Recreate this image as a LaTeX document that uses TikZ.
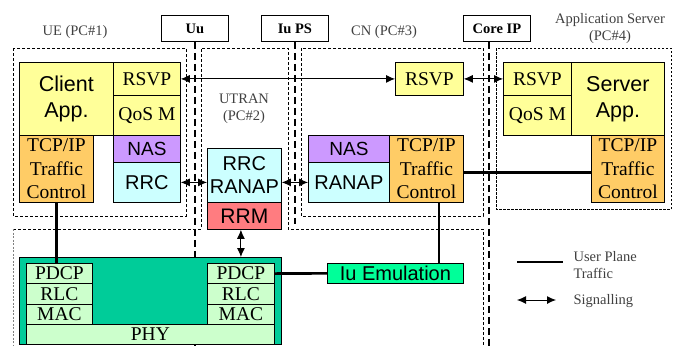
\documentclass[tikz,border=0pt]{standalone}
\usepackage{fontspec}
\setmainfont{Liberation Serif}
\newfontfamily\arialf{Liberation Sans}
\usetikzlibrary{arrows.meta,positioning,calc}
\definecolor{appyellow}{HTML}{FFFF99}
\definecolor{naspurple}{HTML}{CC99FF}
\definecolor{rrccyan}{HTML}{CCFFFF}
\definecolor{tcporange}{HTML}{FFCC66}
\definecolor{rrmred}{HTML}{FF7C80}
\definecolor{phygreen}{HTML}{00CC99}
\definecolor{laygreen}{HTML}{CCFFCC}
\definecolor{iugreen}{HTML}{00FF99}
\begin{document}
\begin{tikzpicture}[x=1pt, y=-1pt, >={Latex[length=9pt,width=8pt]},
  blk/.style={draw, rectangle, anchor=north west, inner sep=0pt, line width=0.8pt, align=center},
  sf/.style={blk, font=\arialf\fontsize{20}{23}\selectfont},
  rm/.style={blk, font=\fontsize{19.5}{23.5}\selectfont},
  app/.style={sf, fill=appyellow, font=\arialf\fontsize{21.5}{26}\selectfont, minimum width=93, minimum height=73},
  tcp/.style={rm, fill=tcporange, minimum width=74, minimum height=67},
  layer/.style={rm, fill=laygreen, minimum width=66, minimum height=20.3},
  iface/.style={draw, fill=white, anchor=north west, inner sep=0pt, line width=0.8pt, minimum width=67, minimum height=26, font=\bfseries\fontsize{14.5}{17}\selectfont},
  lbl/.style={align=center, text=black!75, font=\fontsize{14.5}{17}\selectfont},
  grp/.style={dash pattern=on 3pt off 2pt, line width=0.9pt},
  bound/.style={dash pattern=on 7pt off 4pt, line width=1.3pt},
  sig/.style={<->, line width=0.9pt},
  uplane/.style={line width=2.6pt}]
\useasboundingbox (0,0) rectangle (683,346);
\node[iface] (uu) at (161,15) {Uu};
\node[iface] (iups) at (261,15) {Iu PS};
\node[iface] (coreip) at (463,15) {Core IP};
\draw[bound] (uu.south) -- ++(0,305);
\draw[bound] (iups.south) -- ++(0,182);
\draw[bound] ([xshift=26pt]coreip.south west) -- ++(0,305);
\node[lbl] (uelbl) at (75,32) {UE (PC\#1)};
\node[lbl] (utranlbl) at (244,109) {UTRAN\\(PC\#2)};
\node[lbl] (cnlbl) at (384,32) {CN (PC\#3)};
\node[lbl] (aslbl) at (610,29) {Application Server\\(PC\#4)};
\draw[grp] (13,48) rectangle (186,216);
\draw[grp] (301,48) rectangle (483,216);
\draw[grp, dash pattern=on 2.5pt off 1.5pt, line width=0.8pt] (496,48) rectangle (671,209);
\draw[grp] (13,229) -- (201,229) -- (201,48) -- (288,48) -- (288,229) -- (483,229) -- (483,346);
\draw[grp, black!50, dash pattern=on 2pt off 1.5pt] (13,229) -- (13,346);
\node[app, minimum width=94] (capp) at (19,62) {Client\\App.};
\node[rm, fill=appyellow, minimum width=67, minimum height=33] (rsvpue) at (113,62) {RSVP};
\node[rm, fill=appyellow, minimum width=67, minimum height=40] (qosue) at (113,95) {QoS M};
\node[sf, fill=naspurple, minimum width=67, minimum height=27, font=\arialf\fontsize{19}{22}\selectfont] (nasue) at (113,135) {NAS};
\node[sf, fill=rrccyan, minimum width=67, minimum height=40] (rrcue) at (113,162) {RRC};
\node[tcp] (tcpue) at (19,135) {TCP/IP\\Traffic\\Control};
\node[sf, fill=rrccyan, minimum width=74, minimum height=54] (rrcranap) at (207,148) {RRC\\RANAP};
\node[sf, fill=rrmred, minimum width=74, minimum height=27, font=\arialf\fontsize{21}{24}\selectfont] (rrm) at (207,202) {RRM};
\node[rm, fill=appyellow, minimum width=68, minimum height=33] (rsvpcn) at (395,62) {RSVP};
\node[sf, fill=naspurple, minimum width=81, minimum height=27, font=\arialf\fontsize{19}{22}\selectfont] (nascn) at (308,135) {NAS};
\node[sf, fill=rrccyan, minimum width=81, minimum height=40] (ranapcn) at (308,162) {RANAP};
\node[tcp] (tcpcn) at (389,135) {TCP/IP\\Traffic\\Control};
\node[rm, fill=appyellow, minimum width=68, minimum height=33] (rsvpas) at (503,62) {RSVP};
\node[rm, fill=appyellow, minimum width=68, minimum height=40] (qosas) at (503,95) {QoS M};
\node[app] (sapp) at (571,62) {Server\\App.};
\node[tcp, minimum width=73] (tcpas) at (591,135) {TCP/IP\\Traffic\\Control};
\node[blk, fill=phygreen, minimum width=262, minimum height=87] (phyarea) at (19,257) {};
\node[layer] (pdcpl) at (26,263) {PDCP};
\node[layer] (rlcl) at (26,283.3) {RLC};
\node[layer] (macl) at (26,303.6) {MAC};
\node[layer, minimum width=248] (phy) at (26,324) {PHY};
\node[layer, minimum width=67] (pdcpr) at (207,263) {PDCP};
\node[layer, minimum width=67] (rlcr) at (207,283.3) {RLC};
\node[layer, minimum width=67] (macr) at (207,303.6) {MAC};
\node[sf, fill=iugreen, minimum width=136, minimum height=20] (iuemu) at (327,263) {Iu Emulation};
\draw[sig] (rsvpue.east) -- (rsvpcn.west); \draw[sig] (rsvpcn.east) -- (rsvpas.west);
\draw[sig] (rrcue.east) -- (rrcue.east -| rrcranap.west); \draw[sig] (ranapcn.west -| rrcranap.east) -- (ranapcn.west);
\draw[sig] (rrm.south -| pdcpr.north) -- (pdcpr.north |- phyarea.north);
\draw[uplane] (tcpue.south) -- (tcpue.south |- pdcpl.north);
\draw[uplane] (pdcpr.east) -- (iuemu.west);
\draw[uplane] ([xshift=-25pt]iuemu.north east) -- ([xshift=-25pt]iuemu.north east |- tcpcn.south);
\draw[uplane] ([yshift=-3.5pt]tcpcn.east) -- ([yshift=-3.5pt]tcpas.west);
\coordinate (lga) at (517,262); \coordinate (lgb) at (563,262);
\coordinate (lgc) at (517,300); \coordinate (lgd) at (556,300);
\draw[uplane] (lga) -- (lgb); \draw[sig] (lgc) -- (lgd);
\node[lbl, align=left, anchor=west] (lgup) at (570,265) {User Plane\\Traffic};
\node[lbl, anchor=west] (lgsig) at (570,301) {Signalling};
\end{tikzpicture}
\end{document}
